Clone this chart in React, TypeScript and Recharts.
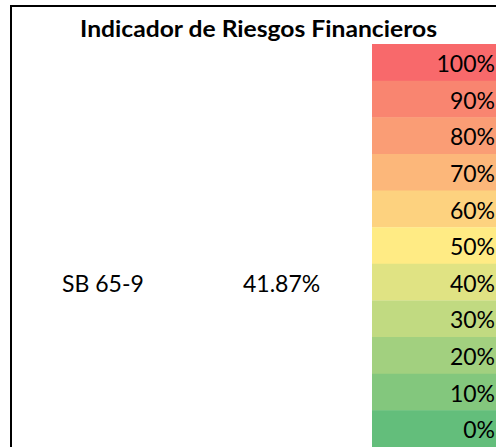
import React from 'react';
import { BarChart, Bar, XAxis, YAxis, Cell, LabelList, Customized } from 'recharts';

const title = 'Indicador de Riesgos Financieros';
const levels = [100, 90, 80, 70, 60, 50, 40, 30, 20, 10, 0];
const levelLabels = ['100%', '90%', '80%', '70%', '60%', '50%', '40%', '30%', '20%', '10%', '0%'];
const palette = ['#F8696B', '#F98570', '#FA9D75', '#FCB77A', '#FDD27F', '#FFEB84', '#E0E383', '#C1DA81', '#A2D07F', '#83C77D', '#63BE7B'];
const projectName = 'SB 65-9';
const riskValue = 41.87;

const data = levels.map((lv, i) => ({ label: levelLabels[i], level: lv, span: 1 }));

const FONT = 'Lato, "Open Sans", sans-serif';

const Overlay = () => (
  <g>
    <line x1={10} y1={6} x2={496} y2={6} stroke="#000" strokeWidth={2} />
    <line x1={11} y1={5} x2={11} y2={447} stroke="#000" strokeWidth={2} />
    <text
      x={80}
      y={36.5}
      textLength={357}
      lengthAdjust="spacingAndGlyphs"
      fontFamily={FONT}
      fontWeight={700}
      fontSize={22.5}
      fill="#000"
    >
      {title}
    </text>
    <text x={62} y={292} fontFamily={FONT} fontSize={23} fill="#000">
      {projectName}
    </text>
    <text x={243} y={292} fontFamily={FONT} fontSize={23} fill="#000">
      {riskValue.toFixed(2) + '%'}
    </text>
  </g>
);

const LevelLabel = (props: any) => {
  const { x, y, width, height, value } = props;
  return (
    <text x={x + width - 1} y={y + height / 2 + 9.5} textAnchor="end" fontFamily={FONT} fontSize={23} fill="#000">
      {value}
    </text>
  );
};

export default function App() {
  return (
    <div style={{ position: 'absolute', left: 0, top: 0, width: 496, height: 447, background: '#fff' }}>
      <BarChart
        width={496}
        height={447}
        data={data}
        layout="vertical"
        margin={{ top: 44, right: 0, bottom: 0, left: 372 }}
        barCategoryGap={0}
        barGap={0}
      >
        <XAxis type="number" domain={[0, 1]} hide />
        <YAxis type="category" dataKey="label" hide />
        <Bar dataKey="span" isAnimationActive={false}>
          {data.map((d, i) => (
            <Cell key={d.label} fill={palette[i]} />
          ))}
          <LabelList dataKey="label" content={LevelLabel} />
        </Bar>
        <Customized component={Overlay} />
      </BarChart>
    </div>
  );
}
